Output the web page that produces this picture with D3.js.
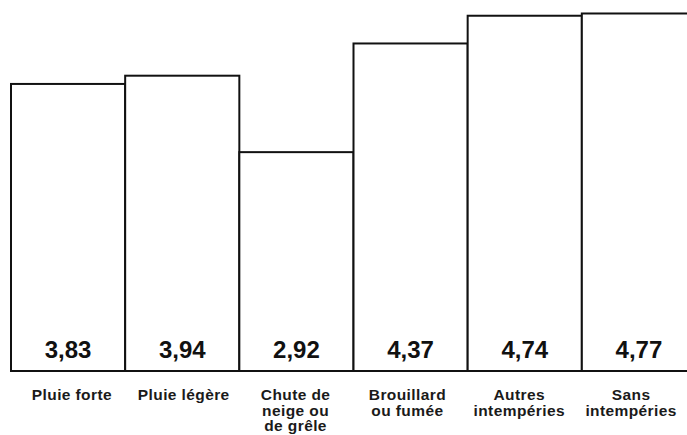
<!DOCTYPE html>
<html>
<head>
<meta charset="utf-8">
<script src="https://cdn.jsdelivr.net/npm/d3@7"></script>
<style>
  html, body { margin: 0; padding: 0; background: #fff; }
  svg { display: block; }
</style>
</head>
<body>
<svg id="chart" width="687" height="435"></svg>
<script>
// Catégories de conditions météo et valeur associée à chacune
const categories = [
  ["Pluie forte"],
  ["Pluie légère"],
  ["Chute de", "neige ou", "de grêle"],
  ["Brouillard", "ou fumée"],
  ["Autres", "intempéries"],
  ["Sans", "intempéries"]
];
const values = [3.83, 3.94, 2.92, 4.37, 4.74, 4.77];
const valueLabels = ["3,83", "3,94", "2,92", "4,37", "4,74", "4,77"];

const svg = d3.select("#chart");
const baseline = 371;

const ids = d3.range(values.length);
const x = d3.scaleBand().domain(ids).range([11, 696]).paddingInner(0).paddingOuter(0);
const xLabel = d3.scaleBand().domain(ids).range([16, 687]);
const y = d3.scaleLinear().domain([0, 4.95]).range([baseline, 0]);

// Barres
svg.append("g").selectAll("rect")
  .data(ids)
  .join("rect")
  .attr("x", i => x(i))
  .attr("y", i => y(values[i]))
  .attr("width", x.bandwidth())
  .attr("height", i => baseline - y(values[i]))
  .attr("fill", "#fff")
  .attr("stroke", "#111")
  .attr("stroke-width", 2);

// Ligne de base
svg.append("line")
  .attr("x1", x(0) - 1).attr("x2", 687)
  .attr("y1", baseline).attr("y2", baseline)
  .attr("stroke", "#111").attr("stroke-width", 2.2);

// Valeurs dans les barres
svg.append("g").selectAll("text")
  .data(ids)
  .join("text")
  .attr("x", i => x(i) + x.bandwidth() / 2)
  .attr("y", 358)
  .attr("text-anchor", "middle")
  .attr("font-family", "Liberation Sans, Arial, sans-serif")
  .attr("font-weight", "bold")
  .attr("font-size", 24)
  .attr("fill", "#111")
  .text(i => valueLabels[i]);

// Libellés des catégories
const lab = svg.append("g").selectAll("text")
  .data(ids)
  .join("text")
  .attr("x", i => xLabel(i) + xLabel.bandwidth() / 2)
  .attr("y", 400)
  .attr("text-anchor", "middle")
  .attr("font-family", "Liberation Sans, Arial, sans-serif")
  .attr("font-weight", "bold")
  .attr("font-size", 15.5)
  .attr("letter-spacing", 0.4)
  .attr("fill", "#1a1a1a");

lab.selectAll("tspan")
  .data(i => categories[i].map((t, k) => ({ t, k, cx: xLabel(i) + xLabel.bandwidth() / 2 })))
  .join("tspan")
  .attr("x", d => d.cx)
  .attr("dy", d => d.k === 0 ? 0 : 15.5)
  .text(d => d.t);
</script>
</body>
</html>
